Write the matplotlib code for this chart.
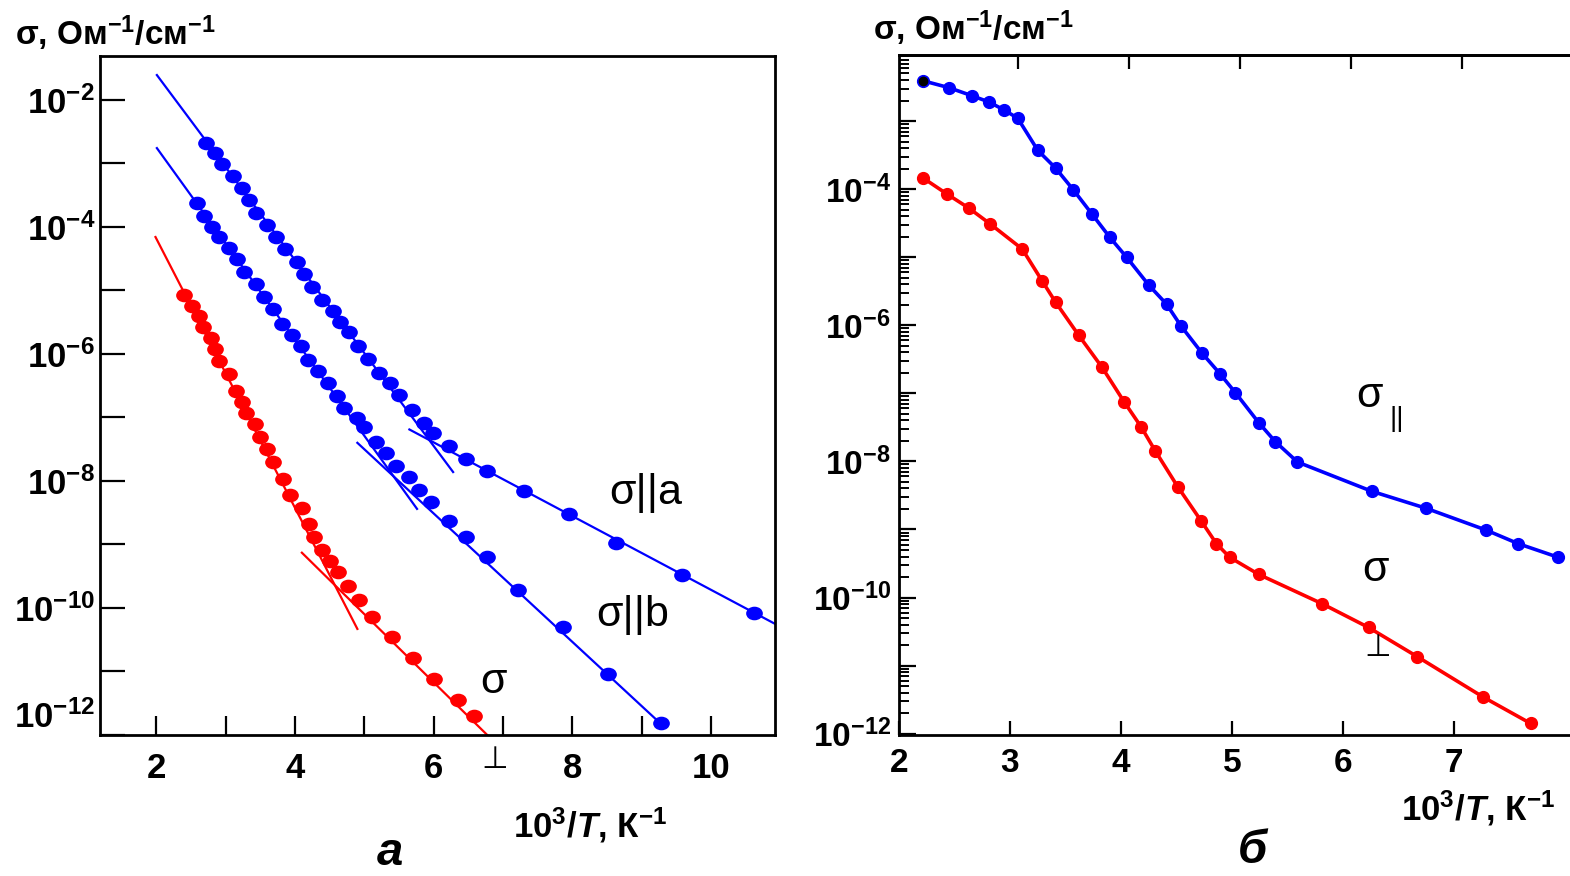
import numpy as np
import matplotlib.pyplot as plt
from matplotlib.path import Path
from matplotlib.markers import MarkerStyle
from matplotlib.ticker import LogLocator, NullLocator, FixedLocator

plt.rcParams['font.family'] = ['Liberation Sans', 'DejaVu Sans']
plt.rcParams['mathtext.fontset'] = 'custom'
plt.rcParams['mathtext.rm'] = 'Liberation Sans:bold'
plt.rcParams['mathtext.it'] = 'Liberation Sans:bold:italic'
plt.rcParams['mathtext.bf'] = 'Liberation Sans:bold'

BLUE = '#0000ff'
RED = '#ff0000'

# ---- panel a: lg(sigma) vs 10^3/T ----
a_x = [2.72, 2.85, 2.95, 3.10, 3.24, 3.34, 3.44, 3.60, 3.73, 3.86, 4.03, 4.13,
       4.25, 4.39, 4.55, 4.65, 4.78, 4.91, 5.05, 5.21, 5.37, 5.50, 5.69, 5.86,
       5.99, 6.22, 6.47, 6.77, 7.30, 7.95, 8.63, 9.58, 10.62]
a_lg = [-2.68, -2.83, -3.01, -3.20, -3.39, -3.57, -3.78, -3.97, -4.16, -4.35,
        -4.55, -4.74, -4.94, -5.15, -5.32, -5.50, -5.65, -5.87, -6.08, -6.30,
        -6.46, -6.65, -6.88, -7.09, -7.24, -7.45, -7.65, -7.84, -8.16, -8.52,
        -8.98, -9.48, -10.08]
a_fit_hi_x, a_fit_hi_lg = [2.01, 6.28], [-1.61, -7.86]
a_fit_lo_x, a_fit_lo_lg = [5.65, 10.92], [-7.19, -10.25]

b_x = [2.59, 2.69, 2.81, 2.91, 3.05, 3.17, 3.27, 3.44, 3.56, 3.69, 3.82, 3.96,
       4.09, 4.19, 4.33, 4.48, 4.61, 4.71, 4.90, 5.00, 5.17, 5.31, 5.46, 5.65,
       5.79, 5.96, 6.22, 6.47, 6.77, 7.22, 7.86, 8.51, 9.28]
b_lg = [-3.62, -3.83, -4.00, -4.16, -4.33, -4.50, -4.71, -4.90, -5.10, -5.29,
        -5.53, -5.70, -5.87, -6.09, -6.27, -6.46, -6.66, -6.85, -7.01, -7.15,
        -7.39, -7.56, -7.76, -7.94, -8.14, -8.33, -8.63, -8.88, -9.20, -9.72,
        -10.30, -11.04, -11.81]
b_fit_hi_x, b_fit_hi_lg = [2.01, 5.76], [-2.76, -8.44]
b_fit_lo_x, b_fit_lo_lg = [4.90, 9.32], [-7.40, -11.87]

p_x = [2.40, 2.52, 2.62, 2.68, 2.79, 2.85, 2.91, 3.05, 3.15, 3.24, 3.30, 3.43,
       3.50, 3.60, 3.69, 3.83, 3.93, 4.10, 4.20, 4.28, 4.39, 4.51, 4.62, 4.77,
       4.93, 5.11, 5.40, 5.70, 6.01, 6.35, 6.58]
p_lg = [-5.07, -5.24, -5.40, -5.57, -5.75, -5.92, -6.11, -6.31, -6.58, -6.76,
        -6.93, -7.10, -7.31, -7.50, -7.70, -7.97, -8.22, -8.43, -8.68, -8.88,
        -9.09, -9.26, -9.43, -9.65, -9.87, -10.14, -10.46, -10.79, -11.12,
        -11.45, -11.70]
p_fit_hi_x, p_fit_hi_lg = [1.99, 4.90], [-4.16, -10.33]
p_fit_lo_x, p_fit_lo_lg = [4.10, 6.80], [-9.13, -12.03]

# ---- panel b ----
par_x = [2.22, 2.45, 2.66, 2.81, 2.95, 3.07, 3.25, 3.41, 3.57, 3.74, 3.90, 4.05,
         4.25, 4.41, 4.54, 4.73, 4.89, 5.03, 5.24, 5.39, 5.59, 6.26, 6.75, 7.29,
         7.58, 7.94]
par_lg = [-2.41, -2.51, -2.63, -2.72, -2.84, -2.96, -3.43, -3.69, -4.01, -4.37,
          -4.71, -5.00, -5.41, -5.69, -6.01, -6.41, -6.71, -6.99, -7.43, -7.71,
          -8.01, -8.44, -8.69, -9.01, -9.21, -9.41]
perp_x = [2.22, 2.43, 2.63, 2.82, 3.11, 3.29, 3.41, 3.62, 3.83, 4.03, 4.18, 4.31,
          4.51, 4.72, 4.86, 4.98, 5.24, 5.81, 6.23, 6.67, 7.26, 7.69]
perp_lg = [-3.84, -4.07, -4.28, -4.51, -4.88, -5.35, -5.66, -6.15, -6.62, -7.13,
           -7.49, -7.85, -8.37, -8.87, -9.21, -9.41, -9.66, -10.09, -10.44,
           -10.87, -11.46, -11.85]


def sig(lg):
    return 10.0 ** np.asarray(lg)


def dec_label(e):
    return r'$10^{%d}$' % e


circ = Path.unit_circle()
oval = MarkerStyle(Path(circ.vertices * [1.25, 1.0], circ.codes))

fig = plt.figure(figsize=(15.7, 8.76), dpi=100)

# ================= panel a =================
ax1 = fig.add_axes([100 / 1570, 141 / 876, 675 / 1570, 679 / 876])
ax1.set_yscale('log')
ax1.set_xlim(1.19, 10.92)
ax1.set_ylim(1e-12, 10 ** -1.31)

for fx, fl, c in [(a_fit_hi_x, a_fit_hi_lg, BLUE), (a_fit_lo_x, a_fit_lo_lg, BLUE),
                  (b_fit_hi_x, b_fit_hi_lg, BLUE), (b_fit_lo_x, b_fit_lo_lg, BLUE),
                  (p_fit_hi_x, p_fit_hi_lg, RED), (p_fit_lo_x, p_fit_lo_lg, RED)]:
    ax1.plot(fx, sig(fl), color=c, lw=1.6, zorder=2)

ax1.plot(a_x, sig(a_lg), ls='none', marker=oval, ms=11, color=BLUE, zorder=3)
ax1.plot(b_x, sig(b_lg), ls='none', marker=oval, ms=11, color=BLUE, zorder=3)
ax1.plot(p_x, sig(p_lg), ls='none', marker=oval, ms=11, color=RED, zorder=3)

decs1 = list(range(-12, -1))
ax1.set_yticks([10.0 ** e for e in decs1])
ax1.set_yticklabels([dec_label(e) if e % 2 == 0 else '' for e in decs1])
ax1.yaxis.set_minor_locator(NullLocator())
ax1.set_xticks(range(2, 11))
ax1.set_xticklabels([str(v) if v % 2 == 0 else '' for v in range(2, 11)])
ax1.tick_params(axis='y', direction='in', length=18, width=1.6, pad=3.5,
                labelsize=25)
ax1.tick_params(axis='x', direction='in', length=14, width=1.6, pad=12,
                labelsize=25)
for lab in ax1.get_xticklabels():
    lab.set_fontweight('bold')
for sp in ax1.spines.values():
    sp.set_linewidth(2)
ax1.yaxis.get_major_ticks()[0].label1.set_verticalalignment('bottom')

ax1.text(9.05, 10 ** -8.19, 'σ||a', fontsize=31, ha='center', va='center')
ax1.text(8.87, 10 ** -10.11, 'σ||b', fontsize=31, ha='center', va='center')
ax1.text(6.86, 10 ** -11.17, 'σ', fontsize=31, ha='center', va='center')
ax1.text(6.88, 10 ** -12.39, '⊥', fontsize=22, ha='center', va='center',
         family=['DejaVu Sans'])

# ================= panel b =================
ax2 = fig.add_axes([899 / 1570, 141 / 876, 671 / 1570, 680 / 876])
ax2.set_yscale('log')
ax2.set_xlim(2.0, 8.045)
ax2.set_ylim(10 ** -12.02, 10 ** -2.03)

ax2.plot(par_x, sig(par_lg), color=BLUE, lw=2.6, marker='o', ms=8.5, zorder=3)
ax2.plot(perp_x, sig(perp_lg), color=RED, lw=2.6, marker='o', ms=8.5, zorder=3)
ax2.plot(par_x[:1], sig(par_lg[:1]), ls='none', marker='o', ms=6,
         color='black', zorder=4)

decs2 = list(range(-12, -2))
ax2.set_yticks([10.0 ** e for e in decs2])
ax2.set_yticklabels([dec_label(e) if e % 2 == 0 else '' for e in decs2])
ax2.yaxis.set_minor_locator(LogLocator(base=10, subs=np.arange(2, 10),
                                       numticks=200))
ax2.set_xticks(range(2, 8))
ax2.set_xticklabels([str(v) for v in range(2, 8)])
ax2.tick_params(axis='y', which='major', direction='in', length=12, width=1.6,
                pad=6, labelsize=24)
ax2.tick_params(axis='y', which='minor', direction='in', length=7, width=1.4)
ax2.tick_params(axis='x', direction='in', length=10, width=1.6, pad=9,
                labelsize=24)
for lab in ax2.get_xticklabels():
    lab.set_fontweight('bold')
for sp in ax2.spines.values():
    sp.set_linewidth(2)
ax2.spines['right'].set_visible(False)

top = ax2.secondary_xaxis('top')
top.xaxis.set_major_locator(FixedLocator([3.07, 4.07, 5.07, 6.07, 7.07]))
top.tick_params(direction='in', length=10, width=1.6, labeltop=False)
top.spines['top'].set_linewidth(2)

ax2.text(6.24, 10 ** -7.04, 'σ', fontsize=31, ha='center', va='center')
ax2.text(6.48, 10 ** -7.38, '||', fontsize=20, ha='center', va='center')
ax2.text(6.29, 10 ** -9.59, 'σ', fontsize=31, ha='center', va='center')
ax2.text(6.31, 10 ** -10.74, '⊥', fontsize=22, ha='center', va='center',
         family=['DejaVu Sans'])

# ---- figure texts ----
ylab = r'σ, Ом$^{-1}$/см$^{-1}$'
xlab = r'10$^{3}$/$\mathit{T}$, К$^{-1}$'
fig.text(15 / 1570, 1 - 33 / 876, ylab, fontsize=24, fontweight='bold',
         ha='left', va='center')
fig.text(873 / 1570, 1 - 28 / 876, ylab, fontsize=24, fontweight='bold',
         ha='left', va='center')
fig.text(590 / 1570, 1 - 825 / 876, xlab, fontsize=25, fontweight='bold',
         ha='center', va='center')
fig.text(1478 / 1570, 1 - 808 / 876, xlab, fontsize=25, fontweight='bold',
         ha='center', va='center')
fig.text(390 / 1570, 1 - 853 / 876, 'а', fontsize=34, fontweight='bold',
         fontstyle='italic', ha='center', va='center')
fig.text(1252 / 1570, 1 - 851 / 876, 'б', fontsize=34, fontweight='bold',
         fontstyle='italic', ha='center', va='center')

fig.savefig('out.png', dpi=100)
